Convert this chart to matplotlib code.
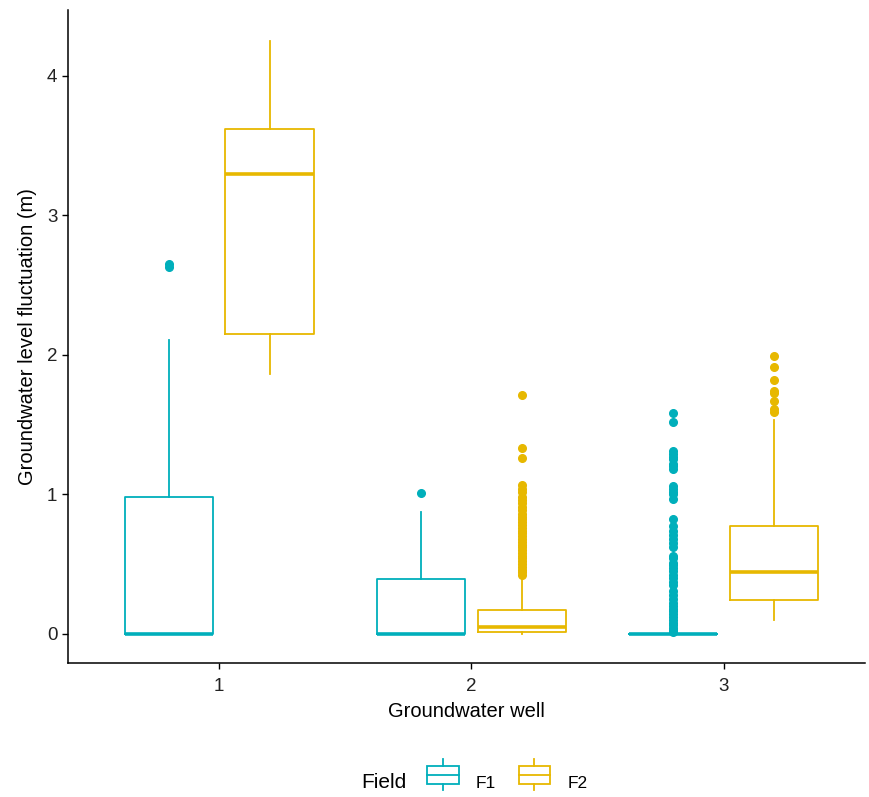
import numpy as np
import matplotlib
matplotlib.use('Agg')
import matplotlib.pyplot as plt
from matplotlib.legend_handler import HandlerBase
from matplotlib.patches import Rectangle
from matplotlib.lines import Line2D
from matplotlib.offsetbox import HPacker

plt.rcParams['font.family'] = ['Liberation Sans', 'DejaVu Sans']

# Box statistics (wells 1..3, fields F1 / F2)
wells = [1, 2, 3]
fields = ['F1', 'F2']
colors = {'F1': '#00AFBB', 'F2': '#E7B800'}

f1_q1 = [0.0, 0.0, 0.0]
f1_med = [0.0, 0.0, 0.0]
f1_q3 = [0.98, 0.39, 0.0]
f1_wlo = [0.0, 0.0, 0.0]
f1_whi = [2.11, 0.875, 0.0]
f1_out = [
    [2.63, 2.65],
    [1.01],
    [1.58, 1.52, 1.31, 1.29, 1.27, 1.25, 1.22, 1.20, 1.18, 1.06, 1.04, 1.02, 1.00, 0.97,
     0.82, 0.77, 0.74, 0.71, 0.68, 0.65, 0.62, 0.56, 0.54, 0.51, 0.49, 0.47, 0.45,
     0.42, 0.40, 0.37, 0.35, 0.31, 0.28, 0.25, 0.22, 0.20, 0.18, 0.16, 0.14, 0.12,
     0.10, 0.08, 0.06, 0.04, 0.03, 0.02, 0.01],
]

f2_q1 = [2.15, 0.015, 0.24]
f2_med = [3.30, 0.05, 0.44]
f2_q3 = [3.62, 0.17, 0.77]
f2_wlo = [1.86, 0.0, 0.10]
f2_whi = [4.25, 0.39, 1.53]
f2_out = [
    [],
    [1.71, 1.33, 1.26, 1.07, 1.04, 1.02, 0.98, 0.96, 0.94, 0.91, 0.89, 0.86, 0.84,
     0.82, 0.80, 0.78, 0.76, 0.74, 0.72, 0.70, 0.68, 0.66, 0.64, 0.62, 0.60, 0.58,
     0.56, 0.54, 0.52, 0.50, 0.48, 0.46, 0.44, 0.42],
    [1.99, 1.91, 1.82, 1.74, 1.73, 1.67, 1.61, 1.59],
]

stats_by_field = {
    'F1': (f1_q1, f1_med, f1_q3, f1_wlo, f1_whi, f1_out),
    'F2': (f2_q1, f2_med, f2_q3, f2_wlo, f2_whi, f2_out),
}
offsets = {'F1': -0.2, 'F2': 0.2}
box_w = 0.35

fig = plt.figure(figsize=(8.7, 7.97), dpi=100)
ax = fig.add_axes([0.078, 0.168, 0.916, 0.819])

for f in fields:
    q1, med, q3, wlo, whi, out = stats_by_field[f]
    c = colors[f]
    st = []
    for i in range(len(wells)):
        st.append({'q1': q1[i], 'med': med[i], 'q3': q3[i], 'whislo': wlo[i],
                   'whishi': whi[i], 'fliers': np.array(out[i])})
    pos = [w + offsets[f] for w in wells]
    ax.bxp(st, positions=pos, widths=box_w, showcaps=False,
           boxprops=dict(color=c, linewidth=1.3),
           whiskerprops=dict(color=c, linewidth=1.3),
           medianprops=dict(color=c, linewidth=2.6, solid_capstyle='butt'),
           flierprops=dict(marker='o', markerfacecolor=c, markeredgecolor=c,
                           markersize=5.5, linestyle='none'))

ax.set_xlim(0.4, 3.56)
ax.set_ylim(-0.21, 4.47)
ax.set_xticks(wells)
ax.set_xticklabels([str(w) for w in wells])
ax.set_yticks([0, 1, 2, 3, 4])
ax.tick_params(labelsize=13.5, length=4, width=1, color='black', labelcolor='#222222')
ax.tick_params(axis='x', pad=7)
for s in ['top', 'right']:
    ax.spines[s].set_visible(False)
for s in ['left', 'bottom']:
    ax.spines[s].set_linewidth(1.1)
ax.set_xlabel('Groundwater well', fontsize=14.5, labelpad=5)
ax.set_ylabel('Groundwater level fluctuation (m)', fontsize=14.5, labelpad=7)


# legend key drawn like a small boxplot
class BoxKey(HandlerBase):
    def create_artists(self, legend, orig, xd, yd, width, height, fontsize, trans):
        c = orig.get_edgecolor()
        cx = xd + width / 2
        r = Rectangle((xd + width * 0.05, yd + height * 0.05), width * 0.9, height * 0.9,
                      facecolor='white', edgecolor=c, linewidth=1.3, transform=trans)
        m = Line2D([xd + width * 0.05, xd + width * 0.95], [yd + height * 0.5] * 2,
                   color=c, linewidth=1.3, transform=trans)
        w1 = Line2D([cx, cx], [yd + height * 0.95, yd + height * 1.3], color=c,
                    linewidth=1.3, transform=trans)
        w2 = Line2D([cx, cx], [yd + height * 0.05, yd - height * 0.3], color=c,
                    linewidth=1.3, transform=trans)
        return [r, m, w1, w2]


handles = [Rectangle((0, 0), 1, 1, facecolor='white', edgecolor=colors[f]) for f in fields]
leg = fig.legend(handles, fields, loc='center', bbox_to_anchor=(0.545, 0.018), ncol=3,
                 frameon=False, fontsize=12.5, handler_map={Rectangle: BoxKey()},
                 handlelength=2.0, handleheight=1.35, columnspacing=1.2,
                 handletextpad=0.9)
leg.set_title('Field', prop={'size': 15})
# put the title on the same row as the keys
box = leg._legend_box
leg._legend_box = HPacker(pad=0, sep=14, align='center', children=box.get_children())
leg._legend_box.set_figure(fig)
leg._legend_box.set_offset(box._offset)

fig.savefig('out.png', dpi=100)
